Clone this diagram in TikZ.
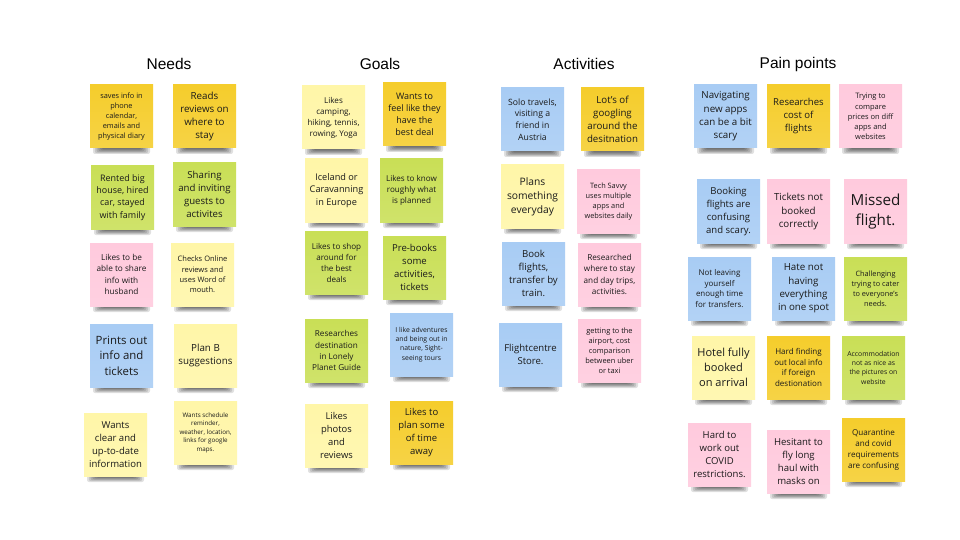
\documentclass[tikz,border=0pt]{standalone}
\usepackage{fontspec}
\setmainfont{Open Sans}
\newfontfamily\titlefont{Liberation Sans}
\definecolor{nlyellow}{HTML}{FFF6A8}
\definecolor{ngold}{HTML}{F5CD2C}
\definecolor{ngreen}{HTML}{C9DF56}
\definecolor{nblue}{HTML}{A8CCF4}
\definecolor{npink}{HTML}{FFCADD}
\definecolor{ntext}{HTML}{1A1A1A}
\tikzset{
  notebox/.style={minimum width=63pt, minimum height=63pt, inner sep=0pt, align=center, text=ntext},
  coltitle/.style={font=\titlefont\fontsize{15.5pt}{18pt}\selectfont, text=black, inner sep=0pt}
}
% #1 name, #2 left x, #3 top y, #4 colour, #5 leading (px), #6 text
\newcommand\stickynote[6]{%
  \foreach \k in {0,...,5}{%
    \fill[black, opacity=0.12, rounded corners=2pt] (#2+3+\k*1.8, #3+56+\k*0.5) rectangle (#2+60-\k*1.8, #3+69-\k*0.9);
  }%
  \pgfmathsetmacro\notefs{#5/1.36}%
  \node[notebox, top color=#4, bottom color=#4!88!white, font=\fontsize{\notefs pt}{#5 pt}\selectfont] (#1) at (#2+31.5, #3+31.5) {#6};
}
\begin{document}
\begin{tikzpicture}[x=1pt, y=-1pt]
\fill[white] (0,0) rectangle (960,540);
\useasboundingbox (0,0) rectangle (960,540);

% titles
\node[coltitle] (tneeds) at (169,64) {Needs};
\node[coltitle] (tgoals) at (380,64) {Goals};
\node[coltitle] (tact) at (584,64) {Activities};
\node[coltitle] (tpain) at (798,64) {Pain points};

% Needs
\stickynote{n1}{90}{85}{ngold}{10}{saves info in\\phone\\calendar,\\emails and\\physical diary}
\stickynote{n2}{173}{85}{ngold}{13.3}{Reads\\reviews on\\where to\\stay}
\stickynote{n3}{91}{166}{ngreen}{12.2}{Rented big\\house, hired\\car, stayed\\with family}
\stickynote{n4}{173}{163}{ngreen}{13.1}{Sharing\\and inviting\\guests to\\activites}
\stickynote{n5}{90}{243}{npink}{11.2}{Likes to be\\able to share\\info with\\husband}
\stickynote{n6}{171}{243}{nlyellow}{10.2}{Checks Online\\reviews and\\uses Word of\\mouth.}
\stickynote{n7}{90}{324}{nblue}{15.5}{Prints out\\info and\\tickets}
\stickynote{n8}{174}{324}{nlyellow}{13.3}{Plan B\\suggestions}
\stickynote{n9}{84}{413}{nlyellow}{13}{Wants\\clear and\\up-to-date\\information}
\stickynote{n10}{174}{401}{nlyellow}{8.5}{Wants schedule\\reminder,\\weather, location,\\links for google\\maps.}

% Goals
\stickynote{g1}{302}{86}{nlyellow}{11}{Likes\\camping,\\hiking, tennis,\\rowing, Yoga}
\stickynote{g2}{383}{83}{ngold}{12.2}{Wants to\\feel like they\\have the\\best deal}
\stickynote{g3}{305}{159}{nlyellow}{12.5}{Iceland or\\Caravanning\\in Europe}
\stickynote{g4}{380}{159}{ngreen}{11}{Likes to know\\roughly what\\is planned}
\stickynote{g5}{305}{231}{ngreen}{11}{Likes to shop\\around for\\the best\\deals}
\stickynote{g6}{383}{236}{ngreen}{13}{Pre-books\\some\\activities,\\tickets}
\stickynote{g7}{305}{319}{ngreen}{11.1}{Researches\\destination\\in Lonely\\Planet Guide}
\stickynote{g8}{390}{313}{nblue}{9.3}{I like adventures\\and being out in\\nature, Sight-\\seeing tours}
\stickynote{g9}{305}{404}{nlyellow}{12.8}{Likes\\photos\\and\\reviews}
\stickynote{g10}{390}{401}{ngold}{12.9}{Likes to\\plan some\\of time\\away}

% Activities
\stickynote{a1}{501}{88}{nblue}{11.8}{Solo travels,\\visiting a\\friend in\\Austria}
\stickynote{a2}{581}{88}{ngold}{13.2}{Lot's of\\googling\\around the\\desitnation}
\stickynote{a3}{501}{165}{nlyellow}{14}{Plans\\something\\everyday}
\stickynote{a4}{577}{170}{npink}{10}{Tech Savvy\\uses multiple\\apps and\\websites daily}
\stickynote{a5}{502}{242}{nblue}{13.1}{Book\\flights,\\transfer by\\train.}
\stickynote{a6}{578}{243}{npink}{11.1}{Researched\\where to stay\\and day trips,\\activities.}
\stickynote{a7}{499}{323}{nblue}{13}{Flightcentre\\Store.}
\stickynote{a8}{578}{319}{npink}{10.1}{getting to the\\airport, cost\\comparison\\between uber\\or taxi}

% Pain points
\stickynote{p1}{694}{85}{nblue}{13.3}{Navigating\\new apps\\can be a bit\\scary}
\stickynote{p2}{767}{85}{ngold}{13}{Researches\\cost of\\flights}
\stickynote{p3}{839}{85}{npink}{10.2}{Trying to\\compare\\prices on diff\\apps and\\websites}
\stickynote{p4}{697}{180}{nblue}{13}{Booking\\flights are\\confusing\\and scary.}
\stickynote{p5}{767}{180}{npink}{13.3}{Tickets not\\booked\\correctly}
\stickynote{p6}{844}{180}{npink}{20.7}{Missed\\flight.}
\stickynote{p7}{688}{257}{nblue}{10.8}{Not leaving\\yourself\\enough time\\for transfers.}
\stickynote{p8}{772}{257}{nblue}{13.3}{Hate not\\having\\everything\\in one spot}
\stickynote{p9}{844}{257}{ngreen}{10}{Challenging\\trying to cater\\to everyone's\\needs.}
\stickynote{p10}{692}{336}{nlyellow}{15}{Hotel fully\\booked\\on arrival}
\stickynote{p11}{767}{336}{ngold}{10.9}{Hard finding\\out local info\\if foreign\\destionation}
\stickynote{p12}{842}{336}{ngreen}{9.3}{Accommodation\\not as nice as\\the pictures on\\website}
\stickynote{p13}{688}{423}{npink}{13}{Hard to\\work out\\COVID\\restrictions.}
\stickynote{p14}{767}{430}{npink}{13}{Hesitant to\\fly long\\haul with\\masks on}
\stickynote{p15}{842}{418}{ngold}{11}{Quarantine\\and covid\\requirements\\are confusing}
\end{tikzpicture}
\end{document}
